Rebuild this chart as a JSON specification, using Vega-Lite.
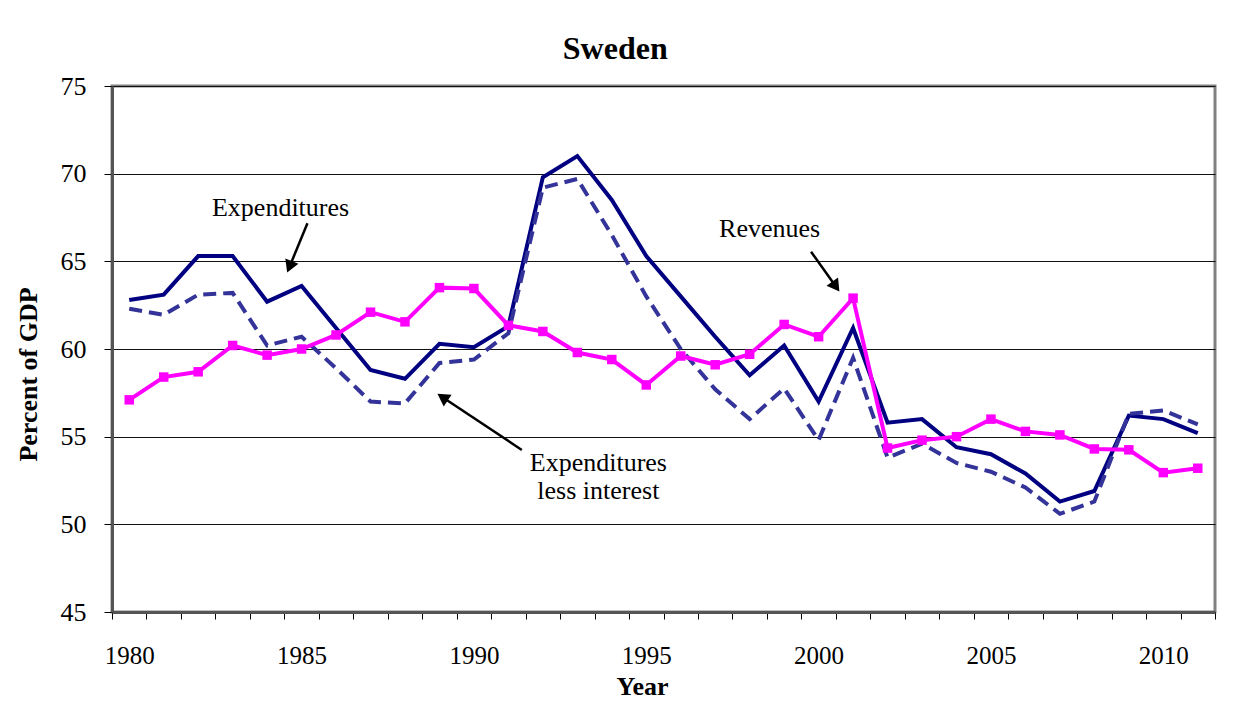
{
  "$schema": "https://vega.github.io/schema/vega-lite/v6.json",
  "width": 1103,
  "height": 526,
  "autosize": {"type": "none"},
  "padding": {"left": 112, "top": 86, "right": 29, "bottom": 105},
  "background": "white",
  "title": {"text": "Sweden", "font": "Liberation Serif", "fontSize": 32, "fontWeight": "bold", "color": "black", "anchor": "middle", "frame": "bounds", "offset": 7},
  "config": {
    "view": {"stroke": "#808080", "strokeWidth": 3},
    "font": "Liberation Serif"
  },
  "resolve": {"axis": {"x": "independent"}},
  "datasets": {
    "series": [
      {"year": 1980, "series": "Expenditures", "value": 62.8},
      {"year": 1981, "series": "Expenditures", "value": 63.1},
      {"year": 1982, "series": "Expenditures", "value": 65.3},
      {"year": 1983, "series": "Expenditures", "value": 65.3},
      {"year": 1984, "series": "Expenditures", "value": 62.7},
      {"year": 1985, "series": "Expenditures", "value": 63.6},
      {"year": 1986, "series": "Expenditures", "value": 61.2},
      {"year": 1987, "series": "Expenditures", "value": 58.8},
      {"year": 1988, "series": "Expenditures", "value": 58.3},
      {"year": 1989, "series": "Expenditures", "value": 60.3},
      {"year": 1990, "series": "Expenditures", "value": 60.1},
      {"year": 1991, "series": "Expenditures", "value": 61.3},
      {"year": 1992, "series": "Expenditures", "value": 69.8},
      {"year": 1993, "series": "Expenditures", "value": 71.0},
      {"year": 1994, "series": "Expenditures", "value": 68.5},
      {"year": 1995, "series": "Expenditures", "value": 65.3},
      {"year": 1996, "series": "Expenditures", "value": 63.0},
      {"year": 1997, "series": "Expenditures", "value": 60.7},
      {"year": 1998, "series": "Expenditures", "value": 58.5},
      {"year": 1999, "series": "Expenditures", "value": 60.2},
      {"year": 2000, "series": "Expenditures", "value": 57.0},
      {"year": 2001, "series": "Expenditures", "value": 61.2},
      {"year": 2002, "series": "Expenditures", "value": 55.8},
      {"year": 2003, "series": "Expenditures", "value": 56.0},
      {"year": 2004, "series": "Expenditures", "value": 54.4},
      {"year": 2005, "series": "Expenditures", "value": 54.0},
      {"year": 2006, "series": "Expenditures", "value": 52.9},
      {"year": 2007, "series": "Expenditures", "value": 51.3},
      {"year": 2008, "series": "Expenditures", "value": 51.9},
      {"year": 2009, "series": "Expenditures", "value": 56.2},
      {"year": 2010, "series": "Expenditures", "value": 56.0},
      {"year": 2011, "series": "Expenditures", "value": 55.2},
      {"year": 1980, "series": "Expenditures less interest", "value": 62.3},
      {"year": 1981, "series": "Expenditures less interest", "value": 61.95},
      {"year": 1982, "series": "Expenditures less interest", "value": 63.1},
      {"year": 1983, "series": "Expenditures less interest", "value": 63.2},
      {"year": 1984, "series": "Expenditures less interest", "value": 60.2},
      {"year": 1985, "series": "Expenditures less interest", "value": 60.7},
      {"year": 1986, "series": "Expenditures less interest", "value": 58.9},
      {"year": 1987, "series": "Expenditures less interest", "value": 57.0},
      {"year": 1988, "series": "Expenditures less interest", "value": 56.9},
      {"year": 1989, "series": "Expenditures less interest", "value": 59.2},
      {"year": 1990, "series": "Expenditures less interest", "value": 59.4},
      {"year": 1991, "series": "Expenditures less interest", "value": 60.9},
      {"year": 1992, "series": "Expenditures less interest", "value": 69.2},
      {"year": 1993, "series": "Expenditures less interest", "value": 69.7},
      {"year": 1994, "series": "Expenditures less interest", "value": 66.5},
      {"year": 1995, "series": "Expenditures less interest", "value": 63.0},
      {"year": 1996, "series": "Expenditures less interest", "value": 60.0},
      {"year": 1997, "series": "Expenditures less interest", "value": 57.7},
      {"year": 1998, "series": "Expenditures less interest", "value": 56.0},
      {"year": 1999, "series": "Expenditures less interest", "value": 57.75},
      {"year": 2000, "series": "Expenditures less interest", "value": 54.8},
      {"year": 2001, "series": "Expenditures less interest", "value": 59.5},
      {"year": 2002, "series": "Expenditures less interest", "value": 53.8},
      {"year": 2003, "series": "Expenditures less interest", "value": 54.6},
      {"year": 2004, "series": "Expenditures less interest", "value": 53.5},
      {"year": 2005, "series": "Expenditures less interest", "value": 53.0},
      {"year": 2006, "series": "Expenditures less interest", "value": 52.1},
      {"year": 2007, "series": "Expenditures less interest", "value": 50.6},
      {"year": 2008, "series": "Expenditures less interest", "value": 51.3},
      {"year": 2009, "series": "Expenditures less interest", "value": 56.3},
      {"year": 2010, "series": "Expenditures less interest", "value": 56.5},
      {"year": 2011, "series": "Expenditures less interest", "value": 55.7},
      {"year": 1980, "series": "Revenues", "value": 57.1},
      {"year": 1981, "series": "Revenues", "value": 58.4},
      {"year": 1982, "series": "Revenues", "value": 58.7},
      {"year": 1983, "series": "Revenues", "value": 60.2},
      {"year": 1984, "series": "Revenues", "value": 59.65},
      {"year": 1985, "series": "Revenues", "value": 60.0},
      {"year": 1986, "series": "Revenues", "value": 60.8},
      {"year": 1987, "series": "Revenues", "value": 62.1},
      {"year": 1988, "series": "Revenues", "value": 61.55},
      {"year": 1989, "series": "Revenues", "value": 63.5},
      {"year": 1990, "series": "Revenues", "value": 63.45},
      {"year": 1991, "series": "Revenues", "value": 61.35},
      {"year": 1992, "series": "Revenues", "value": 61.0},
      {"year": 1993, "series": "Revenues", "value": 59.8},
      {"year": 1994, "series": "Revenues", "value": 59.4},
      {"year": 1995, "series": "Revenues", "value": 57.95},
      {"year": 1996, "series": "Revenues", "value": 59.6},
      {"year": 1997, "series": "Revenues", "value": 59.1},
      {"year": 1998, "series": "Revenues", "value": 59.7},
      {"year": 1999, "series": "Revenues", "value": 61.4},
      {"year": 2000, "series": "Revenues", "value": 60.7},
      {"year": 2001, "series": "Revenues", "value": 62.9},
      {"year": 2002, "series": "Revenues", "value": 54.35},
      {"year": 2003, "series": "Revenues", "value": 54.8},
      {"year": 2004, "series": "Revenues", "value": 55.0},
      {"year": 2005, "series": "Revenues", "value": 56.0},
      {"year": 2006, "series": "Revenues", "value": 55.3},
      {"year": 2007, "series": "Revenues", "value": 55.1},
      {"year": 2008, "series": "Revenues", "value": 54.3},
      {"year": 2009, "series": "Revenues", "value": 54.25},
      {"year": 2010, "series": "Revenues", "value": 52.95},
      {"year": 2011, "series": "Revenues", "value": 53.2}
    ],
    "notes": [
      {"x": 1984.39, "y": 67.6, "text": "Expenditures"},
      {"x": 1998.58, "y": 66.37, "text": "Revenues"},
      {"x": 1993.61, "y": 53.05, "text": "Expenditures"},
      {"x": 1993.61, "y": 51.45, "text": "less interest"}
    ],
    "arrows": [
      {"x": 1985.17, "y": 67.17, "x2": 1984.65, "y2": 64.69, "angle": 202.4},
      {"x": 1999.78, "y": 65.55, "x2": 2000.50, "y2": 63.56, "angle": 144.5},
      {"x": 1991.39, "y": 54.24, "x2": 1989.09, "y2": 57.25, "angle": 303.7}
    ]
  },
  "layer": [
    {
      "data": {"name": "series"},
      "transform": [{"filter": "datum.series == 'Expenditures'"}],
      "mark": {"type": "line", "color": "#000080", "strokeWidth": 4, "clip": true},
      "encoding": {
        "x": {
          "field": "year", "type": "quantitative",
          "scale": {"domain": [1979.5, 2011.5], "nice": false, "zero": false},
          "axis": {
            "orient": "bottom",
            "title": "Year",
            "titleFont": "Liberation Serif", "titleFontSize": 26, "titleFontWeight": "bold", "titleColor": "black",
            "titleX": 530, "titleY": 61, "titleAnchor": "middle",
            "values": [1979.5, 1980.5, 1981.5, 1982.5, 1983.5, 1984.5, 1985.5, 1986.5, 1987.5, 1988.5, 1989.5, 1990.5, 1991.5, 1992.5, 1993.5, 1994.5, 1995.5, 1996.5, 1997.5, 1998.5, 1999.5, 2000.5, 2001.5, 2002.5, 2003.5, 2004.5, 2005.5, 2006.5, 2007.5, 2008.5, 2009.5, 2010.5, 2011.5],
            "labels": false,
            "tickSize": 7, "tickColor": "black", "tickWidth": 1,
            "domainColor": "#555555", "domainWidth": 3,
            "grid": false
          }
        },
        "y": {
          "field": "value", "type": "quantitative",
          "scale": {"domain": [45, 75], "nice": false, "zero": false},
          "axis": {
            "title": "Percent of GDP",
            "titleFont": "Liberation Serif", "titleFontSize": 26, "titleFontWeight": "bold", "titleColor": "black",
            "titleX": -71, "titleY": 288, "titleAnchor": "middle",
            "values": [45, 50, 55, 60, 65, 70, 75],
            "labelFont": "Liberation Serif", "labelFontSize": 26, "labelColor": "black",
            "labelPadding": 18,
            "tickSize": 8, "tickColor": "black", "tickWidth": 1,
            "domainColor": "#555555", "domainWidth": 3,
            "grid": true, "gridColor": "#111111", "gridWidth": 1
          }
        }
      }
    },
    {
      "data": {"name": "series"},
      "transform": [{"filter": "datum.series == 'Expenditures less interest'"}],
      "mark": {"type": "line", "color": "#333399", "strokeWidth": 4, "strokeDash": [13, 7], "clip": true},
      "encoding": {
        "x": {
          "field": "year", "type": "quantitative",
          "axis": {
            "orient": "bottom",
            "title": null,
            "values": [1980, 1985, 1990, 1995, 2000, 2005, 2010],
            "format": "d",
            "labelFont": "Liberation Serif", "labelFontSize": 25, "labelColor": "black",
            "labelPadding": 31, "labelFlush": false, "labelOverlap": false,
            "ticks": false, "domain": false, "grid": false
          }
        },
        "y": {"field": "value", "type": "quantitative"}
      }
    },
    {
      "data": {"name": "series"},
      "transform": [{"filter": "datum.series == 'Revenues'"}],
      "mark": {"type": "line", "color": "#FF00FF", "strokeWidth": 4, "clip": true},
      "encoding": {
        "x": {"field": "year", "type": "quantitative", "axis": null},
        "y": {"field": "value", "type": "quantitative"}
      }
    },
    {
      "data": {"name": "series"},
      "transform": [{"filter": "datum.series == 'Revenues'"}],
      "mark": {"type": "point", "shape": "square", "filled": true, "color": "#FF00FF", "size": 90, "opacity": 1},
      "encoding": {
        "x": {"field": "year", "type": "quantitative", "axis": null},
        "y": {"field": "value", "type": "quantitative"}
      }
    },
    {
      "data": {"name": "arrows"},
      "mark": {"type": "rule", "color": "black", "strokeWidth": 2.5},
      "encoding": {
        "x": {"field": "x", "type": "quantitative", "axis": null},
        "y": {"field": "y", "type": "quantitative"},
        "x2": {"field": "x2"},
        "y2": {"field": "y2"}
      }
    },
    {
      "data": {"name": "arrows"},
      "mark": {"type": "point", "shape": "triangle-up", "filled": true, "color": "black", "size": 200, "opacity": 1},
      "encoding": {
        "x": {"field": "x2", "type": "quantitative", "axis": null},
        "y": {"field": "y2", "type": "quantitative"},
        "angle": {"field": "angle", "type": "quantitative", "scale": null}
      }
    },
    {
      "data": {"name": "notes"},
      "mark": {"type": "text", "font": "Liberation Serif", "fontSize": 26, "color": "black", "align": "center", "baseline": "alphabetic"},
      "encoding": {
        "x": {"field": "x", "type": "quantitative", "axis": null},
        "y": {"field": "y", "type": "quantitative"},
        "text": {"field": "text"}
      }
    }
  ]
}
